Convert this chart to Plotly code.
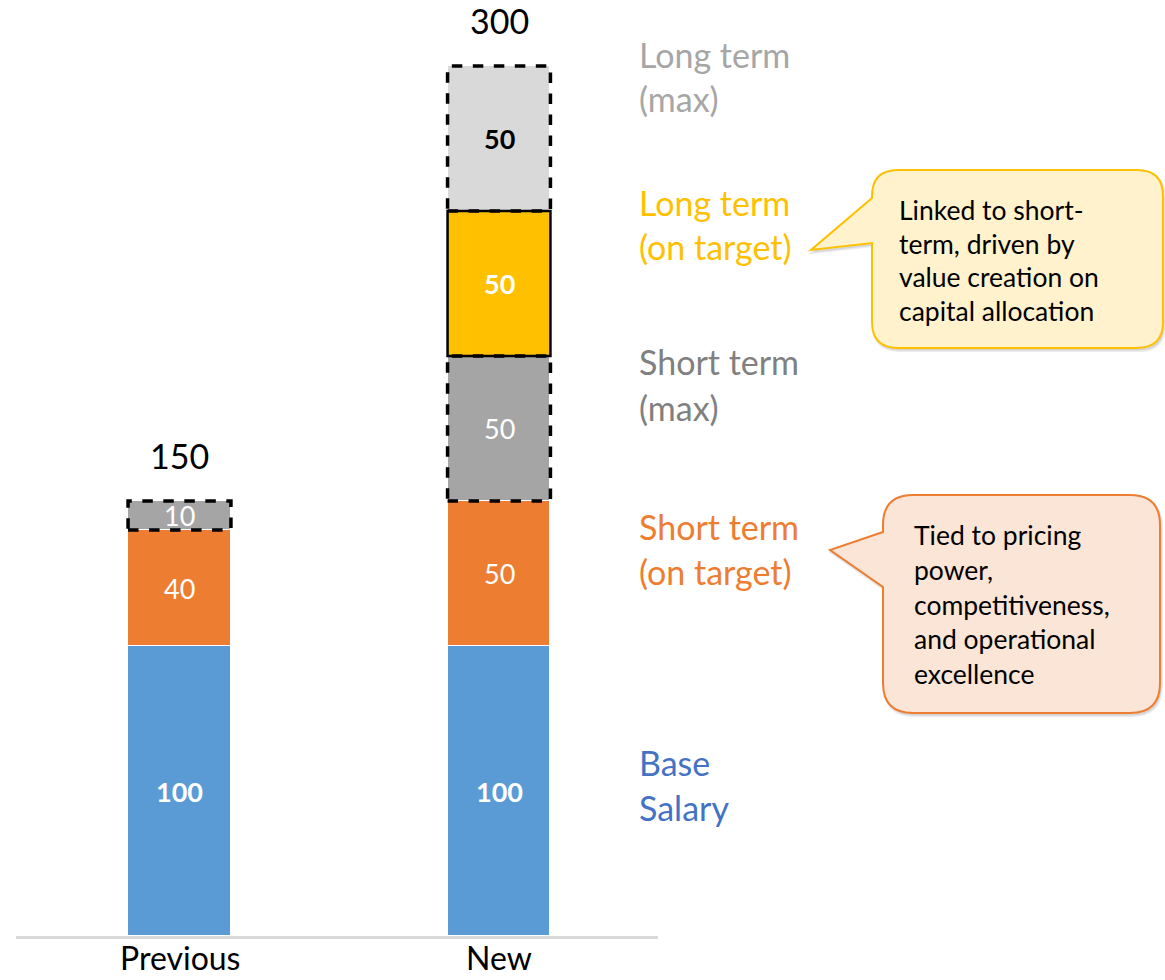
import plotly.graph_objects as go

# ---- data ----
categories = ["Previous", "New"]
base_salary = [100, 100]
short_on_target = [40, 50]
short_max = [10, 50]
long_on_target = [0, 50]
long_max = [0, 50]
totals = [150, 300]

series_names = ["Base Salary", "Short term (on target)", "Short term (max)",
                "Long term (on target)", "Long term (max)"]
series_values = [base_salary, short_on_target, short_max, long_on_target, long_max]

callout_long = ["Linked to short-", "term, driven by", "value creation on", "capital allocation"]
callout_short = ["Tied to pricing", "power,", "competitiveness,", "and operational", "excellence"]

# ---- styling ----
FONT = "Lato"
W, H = 1165, 980
BOTTOM = 44              # px under the baseline
PX_PER_UNIT = 2.9
BAR_W = 0.322

colors = ["#5B9BD5", "#ED7D31", "#A5A5A5", "#FFC000", "#D9D9D9"]
value_colors = ["white", "white", "white", "white", "black"]
value_bold = [True, False, False, True, True]
dashed = [False, False, True, False, True]
solid_border = [False, False, False, True, False]

plot_h = H - BOTTOM


def px(x):
    return x / W


def py(y):
    return (plot_h - y) / plot_h


fig = go.Figure()
for name, vals, col in zip(series_names, series_values, colors):
    fig.add_trace(go.Bar(
        x=categories, y=vals, name=name, width=BAR_W,
        marker=dict(color=col, line=dict(color="white", width=1.5)),
        hoverinfo="skip", showlegend=False,
    ))

shapes = []
annotations = []

# value labels and outlines per segment
for ci, cat in enumerate(categories):
    cum = 0
    for si, vals in enumerate(series_values):
        v = vals[ci]
        if v <= 0:
            continue
        lo, hi = cum, cum + v
        cum = hi
        txt = f"<b>{v}</b>" if value_bold[si] else str(v)
        annotations.append(dict(
            x=ci, y=(lo + hi) / 2, xref="x", yref="y", text=txt, showarrow=False,
            font=dict(family=FONT, size=27, color=value_colors[si]),
            xanchor="center", yanchor="middle"))
        if dashed[si]:
            shapes.append(dict(type="rect", xref="x", yref="y",
                               x0=ci - BAR_W / 2, x1=ci + BAR_W / 2, y0=lo, y1=hi,
                               line=dict(color="black", width=3.5, dash="dash"),
                               fillcolor="rgba(0,0,0,0)", layer="above"))
        if solid_border[si]:
            shapes.append(dict(type="rect", xref="x", yref="y",
                               x0=ci - BAR_W / 2, x1=ci + BAR_W / 2, y0=lo, y1=hi,
                               line=dict(color="black", width=2.5),
                               fillcolor="rgba(0,0,0,0)", layer="above"))

# category names under the baseline
for ci, cat in enumerate(categories):
    annotations.append(dict(
        x=ci, y=py(958), xref="x", yref="paper", text=cat, showarrow=False,
        font=dict(family=FONT, size=32, color="black"),
        xanchor="center", yanchor="middle"))

# totals above each bar
for ci, t in enumerate(totals):
    annotations.append(dict(
        x=ci, y=t, xref="x", yref="y", text=str(t), showarrow=False,
        font=dict(family=FONT, size=34, color="black"),
        xanchor="center", yanchor="middle", yshift=46))

# series labels to the right of the bars
side_labels = [
    (["Long term", "(max)"], "#A6A6A6", 54),
    (["Long term", "(on target)"], "#FFC000", 202),
    (["Short term", "(max)"], "#808080", 362),
    (["Short term", "(on target)"], "#ED7D31", 526),
    (["Base", "Salary"], "#4472C4", 762),
]
for lines, col, y0 in side_labels:
    for k, line in enumerate(lines):
        annotations.append(dict(
            x=px(637), y=py(y0 + 45 * k), xref="paper", yref="paper", text=line,
            showarrow=False, font=dict(family=FONT, size=34, color=col),
            xanchor="left", yanchor="middle"))


def callout_path(x0, y0, x1, y1, r, ya, yb, tx, ty, dx=0, dy=0):
    pts = []

    def P(x, y):
        return f"{px(x + dx):.5f},{py(y + dy):.5f}"
    pts.append(f"M {P(x0 + r, y0)}")
    pts.append(f"L {P(x1 - r, y0)}")
    pts.append(f"Q {P(x1, y0)} {P(x1, y0 + r)}")
    pts.append(f"L {P(x1, y1 - r)}")
    pts.append(f"Q {P(x1, y1)} {P(x1 - r, y1)}")
    pts.append(f"L {P(x0 + r, y1)}")
    pts.append(f"Q {P(x0, y1)} {P(x0, y1 - r)}")
    pts.append(f"L {P(x0, yb)}")
    pts.append(f"L {P(tx, ty)}")
    pts.append(f"L {P(x0, ya)}")
    pts.append(f"L {P(x0, y0 + r)}")
    pts.append(f"Q {P(x0, y0)} {P(x0 + r, y0)}")
    pts.append("Z")
    return " ".join(pts)


callouts = [
    dict(box=(872, 170, 1163, 348, 26), ptr=(198, 243, 811, 250),
         fill="#FFF2CC", line="#FFC000", text=callout_long, tx=897, ty=210, step=33.7),
    dict(box=(883, 495, 1160, 713, 30), ptr=(532, 587, 830, 550),
         fill="#FBE5D6", line="#ED7D31", text=callout_short, tx=912, ty=535, step=34.8),
]
for c in callouts:
    x0, y0, x1, y1, r = c["box"]
    ya, yb, tx, ty = c["ptr"]
    # soft shadow
    shapes.append(dict(type="path", xref="paper", yref="paper",
                       path=callout_path(x0, y0, x1, y1, r, ya, yb, tx, ty, dx=1.5, dy=2.5),
                       fillcolor="rgba(0,0,0,0.10)", line=dict(color="rgba(0,0,0,0.08)", width=3),
                       layer="above"))
    shapes.append(dict(type="path", xref="paper", yref="paper",
                       path=callout_path(x0, y0, x1, y1, r, ya, yb, tx, ty),
                       fillcolor=c["fill"], line=dict(color=c["line"], width=2),
                       layer="above"))
    for k, line in enumerate(c["text"]):
        annotations.append(dict(
            x=px(c["tx"]), y=py(c["ty"] + c["step"] * k), xref="paper", yref="paper",
            text=line, showarrow=False, font=dict(family=FONT, size=26.5, color="black"),
            xanchor="left", yanchor="middle"))

# category axis placed so bars sit at their columns
x_dom = (16 / W, 658 / W)
spacing = 319.5
r0 = -(179.5 - 16) / spacing
r1 = r0 + (658 - 16) / spacing

fig.update_layout(
    width=W, height=H,
    margin=dict(l=0, r=0, t=0, b=BOTTOM, pad=0),
    barmode="stack", bargap=0,
    plot_bgcolor="white", paper_bgcolor="white",
    font=dict(family=FONT, color="black"),
    xaxis=dict(domain=list(x_dom), range=[r0, r1], type="category", automargin=False,
               showline=True, linecolor="#D9D9D9", linewidth=2.5,
               showgrid=False, zeroline=False, ticks="", showticklabels=False),
    yaxis=dict(range=[0, plot_h / PX_PER_UNIT], visible=False, showgrid=False,
               zeroline=False, automargin=False),
    shapes=shapes, annotations=annotations,
)

fig.write_html("out.html")
